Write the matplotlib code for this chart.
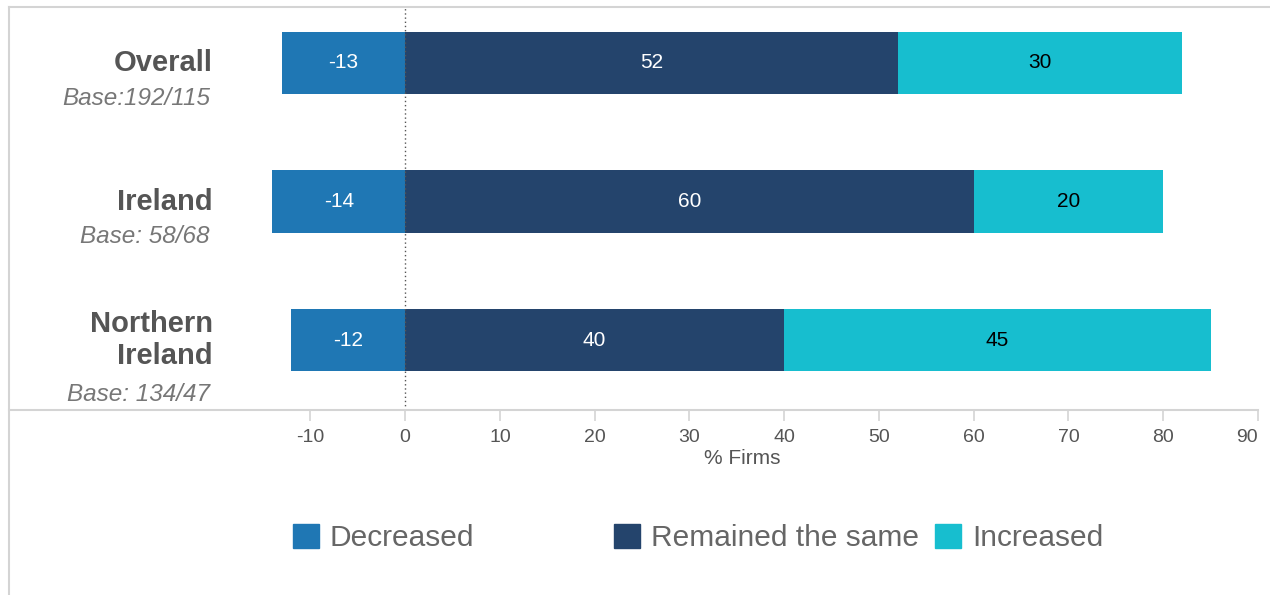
import numpy as np
import matplotlib.pyplot as plt
from matplotlib.patches import Patch
from matplotlib.lines import Line2D
import matplotlib.transforms as mtransforms

plt.rcParams['font.family'] = ['Liberation Sans', 'DejaVu Sans']

# data
regions = ['Overall', 'Ireland', 'Northern\nIreland']
bases = ['Base:192/115', 'Base: 58/68', 'Base: 134/47']
decreased = [-13, -14, -12]
same = [52, 60, 40]
increased = [30, 20, 45]
ticks = [-10, 0, 10, 20, 30, 40, 50, 60, 70, 80, 90]

c_dec = '#1f77b4'
c_same = '#24446c'
c_inc = '#17becf'
grid_c = '#d4d4d4'
txt_c = '#555555'

W, H = 1270, 595
fig = plt.figure(figsize=(W / 100, H / 100), dpi=100)

# frame lines (top and left)
fig.add_artist(Line2D([9 / W, 9 / W], [0, 1 - 7 / H], color=grid_c, lw=1.5))
fig.add_artist(Line2D([9 / W, 1], [1 - 7 / H, 1 - 7 / H], color=grid_c, lw=1.5))

ax = fig.add_axes([9 / W, 1 - 410 / H, (1258 - 9) / W, (410 - 8) / H])
y = np.arange(len(regions))
h = 0.448

ax.barh(y, decreased, height=h, color=c_dec)
ax.barh(y, same, height=h, color=c_same)
ax.barh(y, increased, left=same, height=h, color=c_inc)

for i in range(len(regions)):
    ax.text(decreased[i] / 2, y[i], str(decreased[i]), color='white',
            ha='center', va='center', fontsize=15)
    ax.text(same[i] / 2, y[i], str(same[i]), color='white',
            ha='center', va='center', fontsize=15)
    ax.text(same[i] + increased[i] / 2, y[i], str(increased[i]), color='black',
            ha='center', va='center', fontsize=15)

ax.axvline(0, color='#555555', lw=1, ls=(0, (1, 2)))

ax.set_xlim(-41.8, 90)
ax.set_ylim(2.505, -0.397)

ax.set_xticks(ticks)
ax.set_xticklabels([str(t) for t in ticks], fontsize=14, color=txt_c)
ax.get_xticklabels()[-1].set_horizontalalignment('right')
ax.tick_params(axis='x', length=8, width=1.2, color=grid_c, pad=6, direction='out')
ax.set_yticks([])
for s in ['top', 'right', 'left']:
    ax.spines[s].set_visible(False)
ax.spines['bottom'].set_color(grid_c)
ax.spines['bottom'].set_linewidth(1.5)

# axis title centred under the bars
tr = mtransforms.blended_transform_factory(ax.transData, fig.transFigure)
ax.text(35.6, 1 - 458 / H, '% Firms', transform=tr, ha='center', va='center',
        fontsize=15, color=txt_c)

# category labels
lab_x = (213 - 9) / (1258 - 9)
for i in range(len(regions)):
    ax.text(lab_x, y[i], regions[i], transform=ax.get_yaxis_transform(),
            ha='right', va='center', fontsize=21, fontweight='bold', color='#555555',
            linespacing=1.15)
    off = 0.255 if i < 2 else 0.39
    ax.text(lab_x - 3 / (1258 - 9), y[i] + off, bases[i], transform=ax.get_yaxis_transform(),
            ha='right', va='center', fontsize=17.5, style='italic', color='#777777')

# legend: fixed-width columns
labels = ['Decreased', 'Remained the same', 'Increased']
colors = [c_dec, c_same, c_inc]
for k in range(3):
    x0 = (291 + 321 * k) / W
    fig.legend(handles=[Patch(color=colors[k])], labels=[labels[k]],
               loc='center left', bbox_to_anchor=(x0 - 0.0105, 1 - 538 / H),
               frameon=False, fontsize=21.5, handlelength=0.9, handleheight=0.9,
               handletextpad=0.35, labelcolor='#666666', borderpad=0)

fig.savefig('out.png', dpi=100)
